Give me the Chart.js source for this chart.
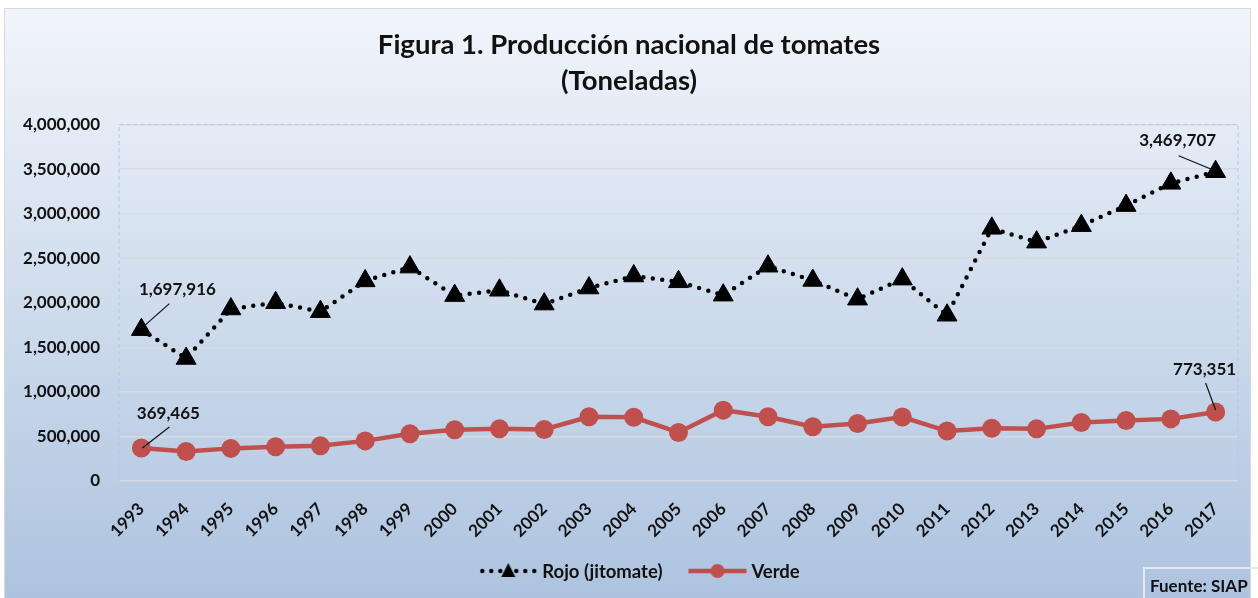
<!DOCTYPE html>
<html>
<head>
<meta charset="utf-8">
<script src="https://cdn.jsdelivr.net/npm/chart.js@4.4.1/dist/chart.umd.min.js"></script>
<style>
  body { margin: 0; background: #fff; }
  #frame {
    position: absolute; left: 4px; top: 8px; width: 1245px; height: 592px;
    border: 1px solid #d9d9d9;
    background: linear-gradient(#f1f5fb, #adc3df);
  }
  #wrap { position: absolute; left: 0; top: 0; width: 1258px; height: 598px; }
  #fuente {
    position: absolute; left: 1143px; top: 567px; width: 120px; height: 31px;
    border-top: 2px solid #e4e9f0; border-left: 2px solid #e4e9f0;
    font: bold 17px Lato, sans-serif; color: #111;
    box-sizing: border-box; padding: 6px 0 0 5px;
  }
</style>
</head>
<body>
<div id="frame"></div>
<div id="wrap"><canvas id="c" width="1258" height="598"></canvas></div>
<div id="fuente">Fuente: SIAP</div>
<script>
var years = ["1993", "1994", "1995", "1996", "1997", "1998", "1999", "2000", "2001", "2002",
  "2003", "2004", "2005", "2006", "2007", "2008", "2009", "2010", "2011", "2012",
  "2013", "2014", "2015", "2016", "2017"];
var rojo = [1697916, 1375000, 1930000, 2000000, 1900000, 2245000, 2400000, 2080000, 2140000, 1985000,
  2165000, 2300000, 2235000, 2085000, 2410000, 2250000, 2040000, 2265000, 1860000, 2835000,
  2680000, 2865000, 3090000, 3340000, 3469707];
var verde = [369465, 330000, 366000, 384000, 396000, 450000, 530000, 575000, 585000, 578000,
  720000, 715000, 545000, 795000, 720000, 608000, 646000, 718000, 560000, 592000,
  585000, 657000, 678000, 697000, 773351];
var yTicks = [0, 500000, 1000000, 1500000, 2000000, 2500000, 3000000, 3500000, 4000000];

var FONT = "Lato, 'Open Sans', sans-serif";
var fmt = function (v) { return v.toLocaleString("en-US"); };

function legendIcon(kind) {
  var cv = document.createElement("canvas");
  cv.width = 60; cv.height = 22;
  var g = cv.getContext("2d");
  if (kind === "rojo") {
    g.fillStyle = "#000";
    [4, 13, 22, 38, 47, 56].forEach(function (x) {
      g.beginPath(); g.arc(x, 11, 2.2, 0, Math.PI * 2); g.fill();
    });
    g.beginPath(); g.moveTo(30, 3); g.lineTo(37, 17); g.lineTo(23, 17); g.closePath(); g.fill();
  } else {
    g.strokeStyle = "#c0504d"; g.lineWidth = 4.5;
    g.beginPath(); g.moveTo(1, 11); g.lineTo(59, 11); g.stroke();
    g.fillStyle = "#c0504d";
    g.beginPath(); g.arc(30, 11, 7, 0, Math.PI * 2); g.fill();
  }
  return cv;
}

// value labels with leader lines: [dataset, index, textDx, textDy, lineX1, lineY1, lineX2, lineY2]
var callouts = [
  [0, 0, 36, -40, 28, -26, 2, -3],
  [1, 0, 27, -35, 28, -21, 1, 0],
  [0, 24, -38, -31, -37, -16, -3, -2],
  [1, 24, -11, -43, -10, -29, 0, -2]
];

var calloutPlugin = {
  id: "callouts",
  afterDatasetsDraw: function (chart) {
    var ctx = chart.ctx;
    ctx.save();
    ctx.font = "bold 17px " + FONT;
    ctx.fillStyle = "#111";
    ctx.strokeStyle = "#111";
    ctx.lineWidth = 1.2;
    ctx.textAlign = "center";
    ctx.textBaseline = "middle";
    callouts.forEach(function (c) {
      var pt = chart.getDatasetMeta(c[0]).data[c[1]];
      var val = chart.data.datasets[c[0]].data[c[1]];
      ctx.beginPath();
      ctx.moveTo(pt.x + c[4], pt.y + c[5]);
      ctx.lineTo(pt.x + c[6], pt.y + c[7]);
      ctx.stroke();
      ctx.fillText(fmt(val), pt.x + c[2], pt.y + c[3]);
    });
    ctx.restore();
  }
};

var borderPlugin = {
  id: "areaBorder",
  beforeDatasetsDraw: function (chart) {
    var a = chart.chartArea, ctx = chart.ctx;
    ctx.save();
    ctx.strokeStyle = "#b4c8e4";
    ctx.lineWidth = 1;
    ctx.setLineDash([4, 3]);
    ctx.beginPath();
    ctx.moveTo(a.left, a.bottom);
    ctx.lineTo(a.left, a.top);
    ctx.lineTo(a.right, a.top);
    ctx.lineTo(a.right, a.bottom);
    ctx.stroke();
    ctx.restore();
  }
};

// legend drawn by hand so it can sit off-centre like the original
var legendPlugin = {
  id: "handLegend",
  afterDraw: function (chart) {
    var ctx = chart.ctx;
    var cx = 639, cy = 571, gapIcon = 4, gapItem = 25;
    ctx.save();
    ctx.font = "bold 18.5px " + FONT;
    ctx.fillStyle = "#111";
    ctx.textBaseline = "middle";
    ctx.textAlign = "left";
    var items = chart.data.datasets.map(function (ds) {
      return { icon: ds.legendIcon, text: ds.label, w: ctx.measureText(ds.label).width };
    });
    var total = 0;
    items.forEach(function (it, i) {
      total += it.icon.width + gapIcon + it.w + (i ? gapItem : 0);
    });
    var x = cx - total / 2;
    items.forEach(function (it, i) {
      if (i) x += gapItem;
      ctx.drawImage(it.icon, x, cy - it.icon.height / 2);
      x += it.icon.width + gapIcon;
      ctx.fillText(it.text, x, cy + 1);
      x += it.w;
    });
    ctx.restore();
  }
};

new Chart(document.getElementById("c").getContext("2d"), {
  type: "line",
  data: {
    labels: years,
    datasets: [
      {
        label: "Rojo (jitomate)",
        data: rojo,
        borderColor: "#000",
        backgroundColor: "#000",
        borderWidth: 4.5,
        borderDash: [0, 9.5],
        borderCapStyle: "round",
        pointStyle: "triangle",
        pointRadius: 11.5,
        pointBackgroundColor: "#000",
        pointBorderColor: "#000",
        pointBorderWidth: 1,
        tension: 0,
        legendIcon: legendIcon("rojo")
      },
      {
        label: "Verde",
        data: verde,
        borderColor: "#c0504d",
        backgroundColor: "#c0504d",
        borderWidth: 4.5,
        pointStyle: "circle",
        pointRadius: 9.5,
        pointBackgroundColor: "#c0504d",
        pointBorderColor: "#c0504d",
        pointBorderWidth: 0,
        tension: 0,
        legendIcon: legendIcon("verde")
      }
    ]
  },
  options: {
    responsive: false,
    animation: false,
    layout: { padding: { left: 20, right: 20, top: 0, bottom: 60 } },
    plugins: {
      title: {
        display: true,
        text: ["Figura 1. Producción nacional de tomates", "(Toneladas)"],
        color: "#111",
        font: { family: FONT, size: 27.5, weight: "bold", lineHeight: 1.3 },
        padding: { top: 27, bottom: 26 }
      },
      legend: { display: false },
      tooltip: { enabled: false }
    },
    scales: {
      x: {
        offset: true,
        grid: { display: false },
        border: { display: false },
        ticks: {
          color: "#111",
          font: { family: FONT, size: 17, weight: "bold" },
          minRotation: 45,
          maxRotation: 45,
          padding: 10,
          autoSkip: false
        },
        afterFit: function (s) { s.height = 57; }
      },
      y: {
        min: 0,
        max: 4000000,
        afterBuildTicks: function (s) {
          s.ticks = yTicks.map(function (v) { return { value: v }; });
        },
        grid: { color: "#d6dbe3", lineWidth: 1.5, drawTicks: false },
        border: { display: false },
        ticks: {
          color: "#111",
          padding: 19,
          font: { family: FONT, size: 17, weight: "bold" },
          callback: function (v) { return fmt(v); }
        },
        afterFit: function (s) { s.width = 99; }
      }
    }
  },
  plugins: [borderPlugin, calloutPlugin, legendPlugin]
});
</script>
</body>
</html>
